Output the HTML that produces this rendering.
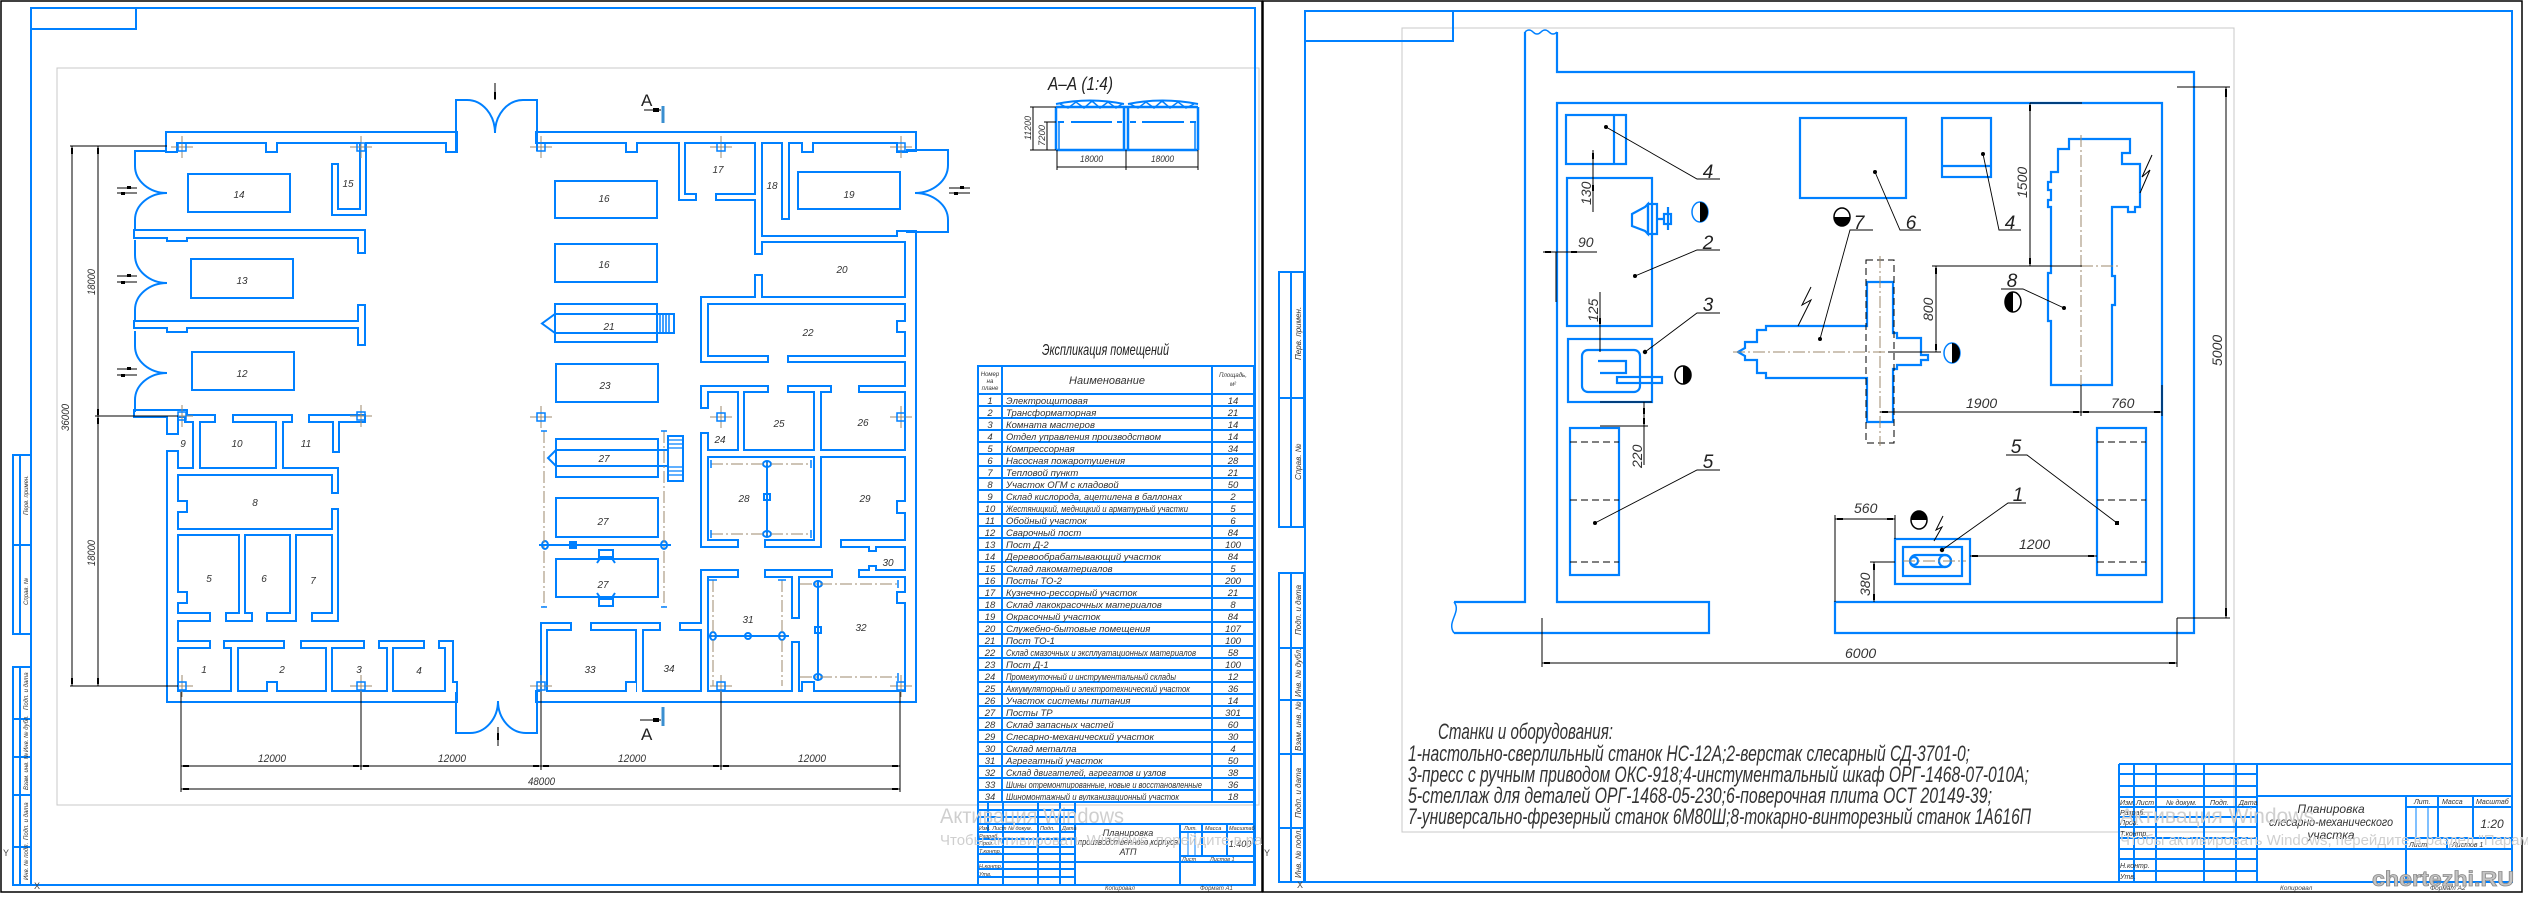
<!DOCTYPE html>
<html><head><meta charset="utf-8">
<style>
html,body{margin:0;padding:0;background:#fff;}
svg{display:block;}
text{font-family:"Liberation Sans","DejaVu Sans",sans-serif;}
</style></head><body>
<svg xmlns="http://www.w3.org/2000/svg" width="2528" height="900" viewBox="0 0 2528 900">
<rect x="0" y="0" width="2528" height="900" fill="#fff"/>

<!-- ================= LEFT SHEET ================= -->
<rect x="1" y="1" width="1261" height="891" fill="none" stroke="#000" stroke-width="1.5"/>
<rect x="57" y="68" width="1202" height="737" fill="none" stroke="#c8c8c8" stroke-width="1"/>
<g fill="none" stroke="#0080ff" stroke-width="2">
  <rect x="31" y="8" width="1224" height="877"/>
  <rect x="31" y="8" width="105" height="21"/>
  <rect x="13" y="455" width="18" height="179"/>
  <line x1="20" y1="455" x2="20" y2="634"/>
  <line x1="13" y1="545" x2="31" y2="545"/>
  <rect x="13" y="667" width="18" height="218"/>
  <line x1="20" y1="667" x2="20" y2="885"/>
  <path d="M13,719H31M13,757H31M13,795H31M13,847H31"/>
</g>
<g font-size="6" fill="#333" font-style="italic">
  <text transform="translate(28,515) rotate(-90)">Перв. примен.</text>
  <text transform="translate(28,605) rotate(-90)">Справ. №</text>
  <text transform="translate(28,710) rotate(-90)">Подп. и дата</text>
  <text transform="translate(28,752) rotate(-90)">Инв. № дубл.</text>
  <text transform="translate(28,790) rotate(-90)">Взам. инв. №</text>
  <text transform="translate(28,840) rotate(-90)">Подп. и дата</text>
  <text transform="translate(28,880) rotate(-90)">Инв. № подл.</text>
</g>
<text x="3" y="856" font-size="9" fill="#444">Y</text>
<text x="34" y="889" font-size="9" fill="#444">X</text>

<defs>
<g id="w">
  <rect x="167" y="133" width="289" height="9"/>
  <rect x="537" y="133" width="378" height="9"/>
  <rect x="167" y="133" width="9" height="18"/>
  <rect x="906" y="133" width="9" height="17"/>
  <rect x="906" y="232" width="9" height="469"/>
  <rect x="168" y="692" width="288" height="9"/>
  <rect x="537" y="692" width="378" height="9"/>
  <rect x="168" y="452" width="9" height="249"/>
  <rect x="168" y="412" width="9" height="21"/>
  <rect x="135" y="231" width="229" height="6"/>
  <rect x="359" y="231" width="5" height="21"/>
  <rect x="168" y="231" width="18" height="9"/>
  <rect x="135" y="322" width="226" height="5"/>
  <rect x="359" y="306" width="5" height="38"/>
  <rect x="168" y="322" width="18" height="9"/>
  <rect x="135" y="411" width="51" height="5"/>
  <rect x="333" y="165" width="4" height="49"/>
  <rect x="333" y="210" width="32" height="4"/>
  <rect x="361" y="142" width="4" height="72"/>
  <rect x="186" y="416" width="28" height="5"/>
  <rect x="194" y="421" width="5" height="48"/>
  <rect x="234" y="416" width="57" height="5"/>
  <rect x="277" y="421" width="5" height="48"/>
  <rect x="310" y="416" width="54" height="5"/>
  <rect x="334" y="421" width="4" height="30"/>
  <rect x="177" y="469" width="160" height="5"/>
  <rect x="333" y="474" width="4" height="18"/>
  <rect x="333" y="510" width="4" height="110"/>
  <rect x="177" y="530" width="156" height="4"/>
  <rect x="177" y="502" width="9" height="9"/>
  <rect x="177" y="593" width="9" height="9"/>
  <rect x="240" y="534" width="4" height="80"/>
  <rect x="291" y="534" width="4" height="86"/>
  <rect x="177" y="614" width="32" height="6"/>
  <rect x="227" y="614" width="24" height="6"/>
  <rect x="268" y="614" width="27" height="6"/>
  <rect x="313" y="614" width="24" height="6"/>
  <rect x="177" y="642" width="32" height="5"/>
  <rect x="225" y="642" width="58" height="5"/>
  <rect x="302" y="642" width="61" height="5"/>
  <rect x="380" y="642" width="43" height="5"/>
  <rect x="440" y="642" width="12" height="5"/>
  <rect x="232" y="647" width="5" height="45"/>
  <rect x="327" y="647" width="4" height="45"/>
  <rect x="388" y="647" width="4" height="45"/>
  <rect x="446" y="647" width="6" height="45"/>
  <rect x="268" y="683" width="8" height="9"/>
  <rect x="447" y="683" width="9" height="9"/>
  <rect x="267" y="142" width="9" height="9"/>
  <rect x="447" y="142" width="9" height="9"/>
  <rect x="627" y="142" width="9" height="9"/>
  <rect x="803" y="142" width="9" height="9"/>
  <rect x="898" y="142" width="8" height="9"/>
  <rect x="898" y="232" width="8" height="9"/>
  <rect x="680" y="142" width="4" height="57"/>
  <rect x="680" y="195" width="15" height="4"/>
  <rect x="717" y="195" width="40" height="4"/>
  <rect x="756" y="142" width="5" height="111"/>
  <rect x="756" y="276" width="5" height="22"/>
  <rect x="783" y="142" width="5" height="76"/>
  <rect x="761" y="237" width="145" height="4"/>
  <rect x="702" y="298" width="204" height="5"/>
  <rect x="702" y="303" width="5" height="58"/>
  <rect x="702" y="357" width="65" height="4"/>
  <rect x="789" y="357" width="117" height="4"/>
  <rect x="898" y="322" width="8" height="9"/>
  <rect x="702" y="387" width="65" height="4"/>
  <rect x="789" y="387" width="41" height="4"/>
  <rect x="860" y="387" width="46" height="4"/>
  <rect x="702" y="391" width="5" height="16"/>
  <rect x="702" y="434" width="5" height="112"/>
  <rect x="739" y="391" width="4" height="60"/>
  <rect x="815" y="391" width="5" height="155"/>
  <rect x="707" y="451" width="199" height="5"/>
  <rect x="702" y="541" width="35" height="5"/>
  <rect x="766" y="541" width="54" height="5"/>
  <rect x="842" y="541" width="64" height="5"/>
  <rect x="870" y="546" width="5" height="4"/>
  <rect x="860" y="571" width="46" height="5"/>
  <rect x="870" y="567" width="5" height="4"/>
  <rect x="702" y="571" width="35" height="5"/>
  <rect x="766" y="571" width="65" height="5"/>
  <rect x="702" y="576" width="5" height="116"/>
  <rect x="793" y="576" width="5" height="41"/>
  <rect x="793" y="643" width="5" height="49"/>
  <rect x="898" y="502" width="8" height="10"/>
  <rect x="898" y="593" width="8" height="9"/>
  <rect x="803" y="683" width="10" height="9"/>
  <rect x="542" y="624" width="4" height="68"/>
  <rect x="542" y="624" width="28" height="5"/>
  <rect x="592" y="624" width="67" height="5"/>
  <rect x="637" y="629" width="5" height="63"/>
  <rect x="681" y="624" width="21" height="5"/>
  <rect x="627" y="683" width="9" height="9"/>
</g>
</defs>
<use href="#w" fill="none" stroke="#0080ff" stroke-width="4"/>
<use href="#w" fill="#fff" stroke="none"/>

<g fill="none" stroke="#0080ff" stroke-width="2">
  <path d="M456,151 L456,100 L467,100 A28,33 0 0 1 495,133 A28,33 0 0 1 523,100 L537,100 L537,151"/>
  <path d="M456,692 L456,733 L470,733 A28,32 0 0 0 498,701 A28,32 0 0 0 526,733 L537,733 L537,692"/>
  <path d="M167,151 L135,151 L135,166 A32,27 0 0 0 167,193 A32,27 0 0 0 135,220 L135,231"/>
  <path d="M135,240 L135,255 A32,28 0 0 0 167,283 A32,27 0 0 0 135,310 L135,322"/>
  <path d="M135,331 L135,346 A32,27 0 0 0 167,373 A32,27 0 0 0 135,400 L135,412"/>
  <path d="M906,150 L948,150 L948,165 A33,28 0 0 1 915,193 A33,27 0 0 1 948,220 L948,232 L906,232"/>
  <rect x="188" y="174" width="102" height="38"/>
  <rect x="191" y="259" width="102" height="39"/>
  <rect x="192" y="352" width="102" height="38"/>
  <rect x="555" y="181" width="102" height="37"/>
  <rect x="555" y="244" width="102" height="38"/>
  <rect x="555" y="304" width="102" height="38"/>
  <path d="M555,314 L674,314 L674,333 L555,333 L542,323.5 Z"/>
  <path d="M660,314V333M663,314V333M666,314V333M669,314V333" stroke-width="1.5"/>
  <rect x="556" y="364" width="102" height="38"/>
  <rect x="556" y="439" width="102" height="38"/>
  <path d="M556,450 L668,450 L668,466 L556,466 L548,458 Z"/>
  <rect x="668" y="436" width="15" height="45"/>
  <path d="M668,440H683M668,444H683M668,448H683M668,467H683M668,471H683M668,475H683" stroke-width="1.3"/>
  <rect x="556" y="498" width="102" height="39"/>
  <rect x="556" y="559" width="102" height="38"/>
  <rect x="599" y="550" width="14" height="7"/>
  <path d="M601,557 L597,563 M611,557 L615,563"/>
  <rect x="599" y="599" width="14" height="7"/>
  <path d="M601,599 L597,593 M611,599 L615,593"/>
  <rect x="798" y="172" width="102" height="37"/>
  <line x1="539" y1="545" x2="671" y2="545"/>
  <ellipse cx="545" cy="545" rx="3" ry="4"/>
  <ellipse cx="664" cy="545" rx="3" ry="4"/>
  <rect x="570" y="542" width="6" height="6" fill="#0080ff"/>
  <line x1="767" y1="462" x2="767" y2="536"/>
  <ellipse cx="767" cy="464" rx="4" ry="3"/>
  <ellipse cx="767" cy="534" rx="4" ry="3"/>
  <rect x="764" y="494" width="6" height="6"/>
  <line x1="709" y1="636" x2="789" y2="636"/>
  <ellipse cx="713" cy="636" rx="3" ry="4"/>
  <ellipse cx="782" cy="636" rx="3" ry="4"/>
  <ellipse cx="748" cy="636" rx="3" ry="3"/>
  <line x1="818" y1="580" x2="818" y2="681"/>
  <ellipse cx="818" cy="584" rx="4" ry="3"/>
  <ellipse cx="818" cy="677" rx="4" ry="3"/>
  <rect x="815" y="627" width="6" height="6"/>
</g>
<g fill="none" stroke="#9c8a6e" stroke-width="1" stroke-dasharray="12 3 2 3">
  <path d="M544,431V607M664,431V607"/>
  <path d="M711,464H811M711,534H811"/>
  <path d="M713,580V686M782,580V686"/>
  <path d="M800,584H898M800,677H898"/>
</g>
<g stroke="#0080ff" stroke-width="1.5">
  <path d="M541,431H547M541,607H547M661,431H667M661,607H667"/>
  <path d="M711,460V468M811,460V468M711,530V538M811,530V538"/>
  <path d="M709,580H717M778,580H786"/>
  <path d="M898,580V588M898,673V681"/>
</g>
<g stroke="#9c8a6e" stroke-width="1">
  <path d="M171,147H193M182,136V158 M350,147H372M361,136V158 M530,147H552M541,136V158 M710,147H732M721,136V158 M890,147H912M901,136V158"/>
  <path d="M171,416H193M182,405V427 M350,416H372M361,405V427 M530,417H552M541,406V428 M710,417H732M721,406V428 M890,417H912M901,406V428"/>
  <path d="M171,686H193M182,675V697 M350,686H372M361,675V697 M530,686H552M541,675V697 M710,686H732M721,675V697 M890,686H912M901,675V697"/>
</g>
<g fill="none" stroke="#0080ff" stroke-width="1.5">
  <rect x="178" y="143" width="8" height="8"/><rect x="357" y="143" width="8" height="8"/><rect x="537" y="143" width="8" height="8"/><rect x="717" y="143" width="8" height="8"/><rect x="897" y="143" width="8" height="8"/>
  <rect x="178" y="412" width="8" height="8"/><rect x="357" y="412" width="8" height="8"/><rect x="537" y="413" width="8" height="8"/><rect x="717" y="413" width="8" height="8"/><rect x="897" y="413" width="8" height="8"/>
  <rect x="178" y="682" width="8" height="8"/><rect x="357" y="682" width="8" height="8"/><rect x="537" y="682" width="8" height="8"/><rect x="717" y="682" width="8" height="8"/><rect x="897" y="682" width="8" height="8"/>
</g>
<g stroke="#000" stroke-width="1">
  <path d="M117,188H137M117,193H137 M117,276H137M117,282H137 M117,369H137M117,375H137 M949,188H970M949,193H970"/>
  <path d="M495,83V100 M498,727V746"/>
</g>
<g fill="#000">
  <rect x="127" y="186" width="4" height="3"/><rect x="121" y="192" width="4" height="3"/>
  <rect x="127" y="274" width="4" height="3"/><rect x="121" y="281" width="4" height="3"/>
  <rect x="127" y="367" width="4" height="3"/><rect x="121" y="374" width="4" height="3"/>
  <rect x="960" y="186" width="4" height="3"/><rect x="954" y="192" width="4" height="3"/>
  <rect x="494" y="92" width="2" height="7"/><rect x="497" y="733" width="2" height="7"/>
</g>
<g stroke="#000" stroke-width="1"><path d="M644,110H661 M640,720H661"/></g>
<rect x="653" y="108" width="6" height="4" fill="#000"/>
<rect x="653" y="718" width="6" height="4" fill="#000"/>
<path d="M663,106V123 M663,707V726" stroke="#3a8fd0" stroke-width="3"/>
<text x="641" y="106" font-size="17" fill="#222">А</text>
<text x="641" y="740" font-size="17" fill="#222">А</text>

<g stroke="#000" stroke-width="1" fill="none">
  <path d="M72,146V686 M98,146V686 M70,146H167 M95,416H178 M70,686H178"/>
  <path d="M181,692V792 M361,692V770 M541,692V770 M721,692V770 M900,692V792"/>
  <path d="M181,766H900 M181,789H900"/>
</g>
<g fill="#000">
  <rect x="71" y="148" width="2" height="6"/><rect x="97" y="148" width="2" height="6"/><rect x="97" y="409" width="2" height="6"/><rect x="97" y="418" width="2" height="6"/><rect x="97" y="678" width="2" height="6"/><rect x="71" y="678" width="2" height="6"/>
  <rect x="183" y="765" width="6" height="2"/><rect x="353" y="765" width="6" height="2"/><rect x="363" y="765" width="6" height="2"/><rect x="533" y="765" width="6" height="2"/><rect x="543" y="765" width="6" height="2"/><rect x="713" y="765" width="6" height="2"/><rect x="723" y="765" width="6" height="2"/><rect x="892" y="765" width="6" height="2"/>
  <rect x="183" y="788" width="6" height="2"/><rect x="892" y="788" width="6" height="2"/>
</g>
<g font-size="11" fill="#333" font-style="italic">
  <text transform="translate(95,295) rotate(-90)" textLength="26" lengthAdjust="spacingAndGlyphs">18000</text>
  <text transform="translate(95,566) rotate(-90)" textLength="26" lengthAdjust="spacingAndGlyphs">18000</text>
  <text transform="translate(69,431) rotate(-90)" textLength="27" lengthAdjust="spacingAndGlyphs">36000</text>
  <text x="258" y="762" textLength="28" lengthAdjust="spacingAndGlyphs">12000</text>
  <text x="438" y="762" textLength="28" lengthAdjust="spacingAndGlyphs">12000</text>
  <text x="618" y="762" textLength="28" lengthAdjust="spacingAndGlyphs">12000</text>
  <text x="798" y="762" textLength="28" lengthAdjust="spacingAndGlyphs">12000</text>
  <text x="528" y="785" textLength="27" lengthAdjust="spacingAndGlyphs">48000</text>
</g>
<g font-size="10" fill="#333" font-style="italic" text-anchor="middle">
  <text x="239" y="198">14</text><text x="348" y="187">15</text><text x="242" y="284">13</text><text x="242" y="377">12</text>
  <text x="604" y="202">16</text><text x="604" y="268">16</text><text x="609" y="330">21</text><text x="605" y="389">23</text>
  <text x="718" y="173">17</text><text x="772" y="189">18</text><text x="849" y="198">19</text><text x="842" y="273">20</text>
  <text x="808" y="336">22</text><text x="720" y="443">24</text><text x="779" y="427">25</text><text x="863" y="426">26</text>
  <text x="604" y="462">27</text><text x="603" y="525">27</text><text x="603" y="588">27</text>
  <text x="744" y="502">28</text><text x="865" y="502">29</text><text x="888" y="566">30</text>
  <text x="748" y="623">31</text><text x="861" y="631">32</text><text x="590" y="673">33</text><text x="669" y="672">34</text>
  <text x="183" y="447">9</text><text x="237" y="447">10</text><text x="306" y="447">11</text><text x="255" y="506">8</text>
  <text x="209" y="582">5</text><text x="264" y="582">6</text><text x="313" y="584">7</text>
  <text x="204" y="673">1</text><text x="282" y="673">2</text><text x="359" y="673">3</text><text x="419" y="674">4</text>
</g>

<text x="1048" y="90" font-size="18" fill="#222" font-style="italic" textLength="65" lengthAdjust="spacingAndGlyphs">А–А (1:4)</text>
<g fill="none" stroke="#0080ff" stroke-width="2.5">
  <path d="M1056,107H1198 M1056,107V150 M1198,107V150 M1056,150H1198 M1124,107V150 M1128,107V150"/>
  <path d="M1056,104 Q1090,97 1124,104 M1128,104 Q1162,97 1198,104" stroke-width="2"/>
  <path d="M1060,104 L1068,108 L1076,102 L1084,108 L1092,101 L1100,108 L1108,102 L1116,108 L1122,104 M1130,104 L1138,108 L1146,102 L1154,108 L1162,101 L1170,108 L1178,102 L1186,108 L1194,104" stroke-width="1.5"/>
  <path d="M1058,122H1064 M1071,122H1112 M1117,122H1122 M1130,122H1136 M1142,122H1184 M1190,122H1196" stroke-width="2"/>
  <path d="M1059,122V150 M1195,122V150" stroke-width="1.5"/>
</g>
<g stroke="#000" stroke-width="1" fill="none">
  <path d="M1030,107H1056 M1044,122H1056 M1033,107V150 M1047,122V150 M1030,150H1056"/>
  <path d="M1057,150V170 M1126,150V170 M1198,150V170 M1057,167H1198"/>
</g>
<g font-size="9" fill="#333" font-style="italic">
  <text transform="translate(1031,140) rotate(-90)" textLength="24" lengthAdjust="spacingAndGlyphs">11200</text>
  <text transform="translate(1045,146) rotate(-90)" textLength="21" lengthAdjust="spacingAndGlyphs">7200</text>
  <text x="1080" y="162" textLength="23" lengthAdjust="spacingAndGlyphs">18000</text>
  <text x="1151" y="162" textLength="23" lengthAdjust="spacingAndGlyphs">18000</text>
</g>

<text x="1042" y="355" font-size="16" fill="#222" font-style="italic" textLength="127" lengthAdjust="spacingAndGlyphs">Экспликация помещений</text>
<g fill="none" stroke="#0080ff" stroke-width="2">
  <rect x="978" y="366" width="276" height="436"/>
  <path d="M1002,366V802 M1212,366V802 M978,394H1254"/>
  <path d="M978,406H1254M978,418H1254M978,430H1254M978,442H1254M978,454H1254M978,466H1254M978,478H1254M978,490H1254M978,502H1254M978,514H1254M978,526H1254M978,538H1254M978,550H1254M978,562H1254M978,574H1254M978,586H1254M978,598H1254M978,610H1254M978,622H1254M978,634H1254M978,646H1254M978,658H1254M978,670H1254M978,682H1254M978,694H1254M978,706H1254M978,718H1254M978,730H1254M978,742H1254M978,754H1254M978,766H1254M978,778H1254M978,790H1254"/>
</g>
<g font-size="6" fill="#333" font-style="italic" text-anchor="middle">
  <text x="990" y="376">Номер</text><text x="990" y="383">на</text><text x="990" y="390">плане</text>
  <text x="1233" y="377">Площадь,</text><text x="1233" y="386">м²</text>
</g>
<text x="1107" y="384" font-size="11" fill="#333" font-style="italic" text-anchor="middle">Наименование</text>
<g font-size="9.5" fill="#333" font-style="italic">
<g text-anchor="middle">
<text x="990" y="404">1</text><text x="990" y="416">2</text><text x="990" y="428">3</text><text x="990" y="440">4</text><text x="990" y="452">5</text><text x="990" y="464">6</text><text x="990" y="476">7</text><text x="990" y="488">8</text><text x="990" y="500">9</text><text x="990" y="512">10</text><text x="990" y="524">11</text><text x="990" y="536">12</text><text x="990" y="548">13</text><text x="990" y="560">14</text><text x="990" y="572">15</text><text x="990" y="584">16</text><text x="990" y="596">17</text><text x="990" y="608">18</text><text x="990" y="620">19</text><text x="990" y="632">20</text><text x="990" y="644">21</text><text x="990" y="656">22</text><text x="990" y="668">23</text><text x="990" y="680">24</text><text x="990" y="692">25</text><text x="990" y="704">26</text><text x="990" y="716">27</text><text x="990" y="728">28</text><text x="990" y="740">29</text><text x="990" y="752">30</text><text x="990" y="764">31</text><text x="990" y="776">32</text><text x="990" y="788">33</text><text x="990" y="800">34</text>
<text x="1233" y="404">14</text><text x="1233" y="416">21</text><text x="1233" y="428">14</text><text x="1233" y="440">14</text><text x="1233" y="452">34</text><text x="1233" y="464">28</text><text x="1233" y="476">21</text><text x="1233" y="488">50</text><text x="1233" y="500">2</text><text x="1233" y="512">5</text><text x="1233" y="524">6</text><text x="1233" y="536">84</text><text x="1233" y="548">100</text><text x="1233" y="560">84</text><text x="1233" y="572">5</text><text x="1233" y="584">200</text><text x="1233" y="596">21</text><text x="1233" y="608">8</text><text x="1233" y="620">84</text><text x="1233" y="632">107</text><text x="1233" y="644">100</text><text x="1233" y="656">58</text><text x="1233" y="668">100</text><text x="1233" y="680">12</text><text x="1233" y="692">36</text><text x="1233" y="704">14</text><text x="1233" y="716">301</text><text x="1233" y="728">60</text><text x="1233" y="740">30</text><text x="1233" y="752">4</text><text x="1233" y="764">50</text><text x="1233" y="776">38</text><text x="1233" y="788">36</text><text x="1233" y="800">18</text>
</g>
<text x="1006" y="404">Электрощитовая</text>
<text x="1006" y="416">Трансформаторная</text>
<text x="1006" y="428">Комната мастеров</text>
<text x="1006" y="440" textLength="155" lengthAdjust="spacingAndGlyphs">Отдел управления производством</text>
<text x="1006" y="452">Компрессорная</text>
<text x="1006" y="464">Насосная пожаротушения</text>
<text x="1006" y="476">Тепловой пункт</text>
<text x="1006" y="488">Участок ОГМ с кладовой</text>
<text x="1006" y="500" textLength="176" lengthAdjust="spacingAndGlyphs">Склад кислорода, ацетилена в баллонах</text>
<text x="1006" y="512" textLength="182" lengthAdjust="spacingAndGlyphs">Жестяницкий, медницкий и арматурный участки</text>
<text x="1006" y="524">Обойный участок</text>
<text x="1006" y="536">Сварочный пост</text>
<text x="1006" y="548">Пост Д-2</text>
<text x="1006" y="560">Деревообрабатывающий участок</text>
<text x="1006" y="572">Склад лакоматериалов</text>
<text x="1006" y="584">Посты ТО-2</text>
<text x="1006" y="596">Кузнечно-рессорный участок</text>
<text x="1006" y="608">Склад лакокрасочных материалов</text>
<text x="1006" y="620">Окрасочный участок</text>
<text x="1006" y="632">Служебно-бытовые помещения</text>
<text x="1006" y="644">Пост ТО-1</text>
<text x="1006" y="656" textLength="190" lengthAdjust="spacingAndGlyphs">Склад смазочных и эксплуатационных материалов</text>
<text x="1006" y="668">Пост Д-1</text>
<text x="1006" y="680" textLength="170" lengthAdjust="spacingAndGlyphs">Промежуточный и инструментальный склады</text>
<text x="1006" y="692" textLength="184" lengthAdjust="spacingAndGlyphs">Аккумуляторный и электротехнический участок</text>
<text x="1006" y="704">Участок системы питания</text>
<text x="1006" y="716">Посты ТР</text>
<text x="1006" y="728">Склад запасных частей</text>
<text x="1006" y="740">Слесарно-механический участок</text>
<text x="1006" y="752">Склад металла</text>
<text x="1006" y="764">Агрегатный участок</text>
<text x="1006" y="776" textLength="160" lengthAdjust="spacingAndGlyphs">Склад двигателей, агрегатов и узлов</text>
<text x="1006" y="788" textLength="196" lengthAdjust="spacingAndGlyphs">Шины отремонтированные, новые и восстановленные</text>
<text x="1006" y="800" textLength="173" lengthAdjust="spacingAndGlyphs">Шиномонтажный и вулканизационный участок</text>
</g>

<g fill="none" stroke="#0080ff" stroke-width="2">
  <rect x="978" y="802" width="276" height="83"/>
  <path d="M988,802V832 M1003,802V885 M1038,802V885 M1060,802V885 M1075,802V885"/>
  <path d="M978,810H1075 M978,817H1075 M978,824H1254 M978,832H1075 M978,839H1075 M978,847H1075 M978,854H1075 M978,862H1254 M978,869H1075 M978,877H1075"/>
  <path d="M1180,824V885 M1202,824V856 M1227,824V856 M1180,832H1254 M1180,856H1254"/>
  <path d="M1188,832V856 M1195,832V856" stroke-width="1"/>
</g>
<g font-size="5.5" fill="#333" font-style="italic">
  <text x="979" y="830">Изм. Лист</text><text x="1008" y="830">№ докум.</text><text x="1040" y="830">Подп.</text><text x="1062" y="830">Дата</text>
  <text x="979" y="838">Разраб.</text><text x="979" y="845">Пров.</text><text x="979" y="853">Т.контр.</text><text x="979" y="868">Н.контр.</text><text x="979" y="876">Утв.</text>
  <text x="1184" y="830">Лит.</text><text x="1205" y="830">Масса</text><text x="1229" y="830">Масштаб</text>
  <text x="1182" y="861">Лист</text><text x="1210" y="861">Листов 1</text>
</g>
<g font-size="9" fill="#333" font-style="italic" text-anchor="middle">
  <text x="1128" y="836">Планировка</text>
  <text x="1128" y="845" textLength="100" lengthAdjust="spacingAndGlyphs">производственного корпуса</text>
  <text x="1128" y="855">АТП</text>
  <text x="1240" y="847">1:400</text>
</g>
<text x="1105" y="890" font-size="6" fill="#444" font-style="italic">Копировал</text>
<text x="1200" y="890" font-size="6" fill="#444" font-style="italic">Формат A1</text>

<svg x="0" y="0" width="1262" height="900">
  <text x="940" y="823" font-size="21" fill="#cfcfcf" textLength="184" lengthAdjust="spacingAndGlyphs">Активация Windows</text>
  <text x="940" y="845" font-size="15" fill="#cfcfcf">Чтобы активировать Windows, перейдите в раздел "Параметры".</text>
</svg>

<!-- ================= RIGHT SHEET ================= -->
<rect x="1263" y="1" width="1259" height="891" fill="none" stroke="#000" stroke-width="1.5"/>
<rect x="1402" y="28" width="832" height="804" fill="none" stroke="#c8c8c8" stroke-width="1"/>
<g fill="none" stroke="#0080ff" stroke-width="2">
  <rect x="1305" y="11" width="1207" height="871"/>
  <rect x="1305" y="11" width="148" height="30"/>
  <rect x="1279" y="272" width="25" height="255"/>
  <line x1="1291" y1="272" x2="1291" y2="527"/>
  <line x1="1279" y1="398" x2="1304" y2="398"/>
  <rect x="1279" y="573" width="25" height="309"/>
  <line x1="1291" y1="573" x2="1291" y2="882"/>
  <path d="M1279,648H1304M1279,700H1304M1279,754H1304M1279,828H1304"/>
</g>
<g font-size="8" fill="#333" font-style="italic">
  <text transform="translate(1301,360) rotate(-90)">Перв. примен.</text>
  <text transform="translate(1301,480) rotate(-90)">Справ. №</text>
  <text transform="translate(1301,635) rotate(-90)">Подп. и дата</text>
  <text transform="translate(1301,697) rotate(-90)">Инв. № дубл.</text>
  <text transform="translate(1301,751) rotate(-90)">Взам. инв. №</text>
  <text transform="translate(1301,818) rotate(-90)">Подп. и дата</text>
  <text transform="translate(1301,878) rotate(-90)">Инв. № подл.</text>
</g>
<text x="1264" y="856" font-size="9" fill="#444">Y</text>
<text x="1297" y="888" font-size="9" fill="#444">X</text>

<g fill="none" stroke="#0080ff" stroke-width="2.2">
  <path d="M1557,32 L1557,72 L2194,72 L2194,633 L1835,633 L1835,602 L2162,602 L2162,103 L1557,103 L1557,602 L1709,602 L1709,633 L1454,633"/>
  <path d="M1454,602 L1525,602 L1525,32"/>
  <path d="M1525,32 q4,-4 8,0 q4,4 8,0 q4,-4 8,0 q4,4 8,0" stroke-width="1.5"/>
  <path d="M1454,602 C1462,612 1446,622 1454,633" stroke-width="1.5"/>
  <rect x="1566" y="115" width="60" height="49"/>
  <line x1="1614" y1="115" x2="1614" y2="164"/>
  <rect x="1567" y="178" width="85" height="148"/>
  <rect x="1568" y="339" width="84" height="63"/>
  <rect x="1582" y="350" width="58" height="42" rx="6"/>
  <path d="M1598,361 L1626,361 L1626,373 L1600,373"/>
  <rect x="1617" y="377" width="45" height="6"/>
  <path d="M1632,214 L1645,207 L1648,204 L1648,234 L1645,231 L1632,226 Z"/>
  <rect x="1648" y="204" width="9" height="30"/>
  <path d="M1657,219 H1665 M1668,207 V230"/>
  <rect x="1664" y="214" width="7" height="10"/>
  <rect x="1800" y="118" width="106" height="80"/>
  <rect x="1942" y="118" width="49" height="59"/>
  <line x1="1942" y1="166" x2="1991" y2="166"/>
  <rect x="1570" y="428" width="49" height="147"/>
  <rect x="2097" y="428" width="49" height="147"/>
  <rect x="1895" y="539" width="75" height="45"/>
  <rect x="1903" y="547" width="59" height="29"/>
  <rect x="1910" y="555" width="41" height="12" rx="6"/>
  <circle cx="1914" cy="561" r="4"/>
  <circle cx="1945" cy="561" r="6"/>
  <path d="M1766,326 L1867,326 L1867,282 L1893,282 L1893,333 L1897,333 L1897,338 L1921,338 L1921,355 L1928,355 L1928,360 L1921,360 L1921,365 L1897,365 L1897,369 L1893,369 L1893,422 L1867,422 L1867,378 L1766,378 L1766,373 L1757,373 L1757,360 L1745,360 L1745,356 L1738,352 L1745,348 L1745,342 L1757,342 L1757,330 L1766,330 Z"/>
  <path d="M2069,139 L2130,139 L2130,153 L2122,153 L2122,164 L2140,164 L2140,207 L2135,207 L2135,212 L2128,212 L2128,207 L2112,207 L2112,276 L2115,276 L2115,305 L2112,305 L2112,385 L2051,385 L2051,321 L2048,321 L2048,273 L2051,273 L2051,207 L2048,207 L2048,200 L2051,200 L2051,190 L2048,190 L2048,182 L2051,182 L2051,172 L2058,172 L2058,149 L2069,149 Z"/>
</g>
<g stroke="#000" stroke-width="1" fill="none" stroke-dasharray="7 4">
  <path d="M1570,442H1619 M1570,500H1619 M1570,562H1619"/>
  <path d="M2097,442H2146 M2097,500H2146 M2097,562H2146"/>
  <rect x="1866" y="260" width="28" height="183"/>
</g>
<g stroke="#9c8a6e" stroke-width="1" fill="none" stroke-dasharray="12 3 2 3">
  <path d="M1733,352H1932 M1880,256V446 M2081,135V388 M2081,266H2118 M1903,561H1966"/>
</g>
<g stroke-width="1.5">
  <ellipse cx="1700" cy="212" rx="8" ry="10" fill="#fff" stroke="#0080ff"/>
  <path d="M1700,202 A8,10 0 0 1 1700,222 Z" fill="#000"/>
  <ellipse cx="1683" cy="375" rx="8" ry="9" fill="#fff" stroke="#000"/>
  <path d="M1683,366 A8,9 0 0 1 1683,384 Z" fill="#000"/>
  <ellipse cx="1842" cy="217" rx="8" ry="9" fill="#fff" stroke="#000"/>
  <path d="M1834,217 A8,9 0 0 0 1850,217 Z" fill="#000"/>
  <ellipse cx="2013" cy="302" rx="8" ry="10" fill="#fff" stroke="#000"/>
  <path d="M2013,292 A8,10 0 0 0 2013,312 Z" fill="#000"/>
  <ellipse cx="1952" cy="353" rx="8" ry="10" fill="#fff" stroke="#0080ff"/>
  <path d="M1952,343 A8,10 0 0 1 1952,363 Z" fill="#000"/>
  <ellipse cx="1919" cy="520" rx="8" ry="9" fill="#fff" stroke="#000"/>
  <path d="M1911,520 A8,9 0 0 1 1927,520 Z" fill="#000"/>
</g>
<g stroke="#000" stroke-width="1" fill="none">
  <path d="M2152,155 L2142,177 L2150,170 L2140,193"/>
  <path d="M1811,287 L1802,305 L1811,300 L1798,326"/>
  <path d="M1943,516 L1936,530 L1942,527 L1934,541"/>
</g>
<g stroke="#000" stroke-width="0.9" fill="none">
  <path d="M1606,127 L1697,179 L1720,179"/>
  <path d="M1635,276 L1697,250 L1720,250"/>
  <path d="M1645,352 L1697,313 L1720,313"/>
  <path d="M1820,339 L1850,230 L1873,230"/>
  <path d="M1875,172 L1900,230 L1921,230"/>
  <path d="M1983,154 L1999,230 L2021,230"/>
  <path d="M2064,308 L2023,289 L2001,289"/>
  <path d="M1595,523 L1697,470 L1720,470"/>
  <path d="M2117,523 L2027,455 L2006,455"/>
  <path d="M1942,550 L2008,503 L2026,503"/>
</g>
<g fill="#000">
  <circle cx="1606" cy="127" r="2"/><circle cx="1635" cy="276" r="2"/><circle cx="1645" cy="352" r="2.2"/><circle cx="1820" cy="339" r="2"/><circle cx="1875" cy="172" r="2"/><circle cx="1983" cy="154" r="2"/><circle cx="2064" cy="308" r="2"/><circle cx="1595" cy="523" r="2"/><rect x="2115" y="521" width="4" height="4"/><circle cx="1942" cy="550" r="2.2"/>
</g>
<g font-size="19" fill="#222" font-style="italic" text-anchor="middle">
  <text x="1708" y="178">4</text><text x="1708" y="249">2</text><text x="1708" y="311">3</text>
  <text x="1859" y="229">7</text><text x="1911" y="229">6</text><text x="2010" y="229">4</text>
  <text x="2012" y="287">8</text><text x="1708" y="468">5</text><text x="2016" y="453">5</text><text x="2018" y="501">1</text>
</g>
<g stroke="#000" stroke-width="1" fill="none">
  <path d="M1593,150V212 M1543,252H1597 M1556,252V302 M1600,292V352"/>
  <path d="M1644,402V465 M1600,402H1652 M1600,426H1648"/>
  <path d="M2030,103V266 M2030,103H2082 M1936,266V352 M1932,266H2082 M1888,352H1941"/>
  <path d="M1880,412H2162 M2081,385V416 M2162,385V416"/>
  <path d="M2226,87V618 M2177,87H2230 M2177,618H2230 M2177,618V667"/>
  <path d="M1542,663H2177 M1542,618V667"/>
  <path d="M1835,519H1895 M1835,515V602 M1895,515V539"/>
  <path d="M1874,562V602 M1870,562H1895"/>
  <path d="M1970,556H2097"/>
</g>
<g fill="#000">
  <rect x="1592" y="153" width="2" height="6"/><rect x="1592" y="185" width="2" height="6"/>
  <rect x="1545" y="251" width="6" height="2"/><rect x="1571" y="251" width="6" height="2"/>
  <rect x="1599" y="318" width="2" height="6"/><rect x="1643" y="408" width="2" height="6"/><rect x="1643" y="418" width="2" height="6"/>
  <rect x="2029" y="105" width="2" height="6"/><rect x="2029" y="258" width="2" height="6"/>
  <rect x="1935" y="268" width="2" height="6"/><rect x="1935" y="344" width="2" height="6"/>
  <rect x="1882" y="411" width="6" height="2"/><rect x="2073" y="411" width="6" height="2"/><rect x="2083" y="411" width="6" height="2"/><rect x="2154" y="411" width="6" height="2"/>
  <rect x="2225" y="89" width="2" height="8"/><rect x="2225" y="608" width="2" height="8"/>
  <rect x="1544" y="662" width="6" height="2"/><rect x="2169" y="662" width="6" height="2"/>
  <rect x="1837" y="518" width="6" height="2"/><rect x="1887" y="518" width="6" height="2"/>
  <rect x="1873" y="564" width="2" height="6"/><rect x="1873" y="594" width="2" height="6"/>
  <rect x="1972" y="555" width="6" height="2"/><rect x="2088" y="555" width="6" height="2"/>
</g>
<g font-size="14" fill="#333" font-style="italic">
  <text transform="translate(1591,205) rotate(-90)">130</text>
  <text x="1578" y="247">90</text>
  <text transform="translate(1598,322) rotate(-90)">125</text>
  <text transform="translate(1642,468) rotate(-90)">220</text>
  <text transform="translate(2027,198) rotate(-90)">1500</text>
  <text transform="translate(1933,321) rotate(-90)">800</text>
  <text x="1966" y="408">1900</text>
  <text x="2111" y="408">760</text>
  <text transform="translate(2222,366) rotate(-90)">5000</text>
  <text x="1845" y="658">6000</text>
  <text x="1854" y="513">560</text>
  <text transform="translate(1870,596) rotate(-90)">380</text>
  <text x="2019" y="549">1200</text>
</g>
<g font-size="22" fill="#333" font-style="italic">
  <text x="1438" y="739" textLength="175" lengthAdjust="spacingAndGlyphs">Станки и оборудования:</text>
  <text x="1408" y="761" textLength="562" lengthAdjust="spacingAndGlyphs">1-настольно-сверлильный станок НС-12А;2-верстак слесарный СД-3701-0;</text>
  <text x="1408" y="782" textLength="621" lengthAdjust="spacingAndGlyphs">3-пресс с ручным приводом ОКС-918;4-инстументальный шкаф ОРГ-1468-07-010А;</text>
  <text x="1408" y="803" textLength="584" lengthAdjust="spacingAndGlyphs">5-стеллаж для деталей ОРГ-1468-05-230;6-поверочная плита ОСТ 20149-39;</text>
  <text x="1408" y="824" textLength="623" lengthAdjust="spacingAndGlyphs">7-универсально-фрезерный станок 6М80Ш;8-токарно-винторезный станок 1А616П</text>
</g>
<g fill="none" stroke="#0080ff" stroke-width="2">
  <path d="M2119,764H2512 M2119,764V882"/>
  <path d="M2134,764V882 M2156,764V882 M2204,764V882 M2236,764V882 M2257,764V882"/>
  <path d="M2119,774H2257 M2119,786H2257 M2119,797H2257 M2119,807H2257 M2119,817H2257 M2119,827H2257 M2119,838H2257 M2119,849H2257 M2119,859H2257 M2119,871H2257"/>
  <path d="M2257,796H2512 M2257,849H2512 M2406,796V882 M2438,796V838 M2473,796V838 M2406,807H2512 M2406,838H2512 M2447,838V849"/>
  <path d="M2416,807V838 M2428,807V838" stroke-width="1"/>
</g>
<g font-size="7" fill="#333" font-style="italic">
  <text x="2120" y="805">Изм.</text><text x="2136" y="805">Лист</text><text x="2166" y="805">№ докум.</text><text x="2210" y="805">Подп.</text><text x="2239" y="805">Дата</text>
  <text x="2120" y="815">Разраб.</text><text x="2120" y="825">Пров.</text><text x="2120" y="836">Т.контр.</text><text x="2120" y="868">Н.контр.</text><text x="2120" y="879">Утв.</text>
  <text x="2414" y="804">Лит.</text><text x="2442" y="804">Масса</text><text x="2476" y="804">Масштаб</text>
  <text x="2409" y="847">Лист</text><text x="2452" y="847">Листов 1</text>
</g>
<g font-size="12" fill="#333" font-style="italic" text-anchor="middle">
  <text x="2331" y="813">Планировка</text>
  <text x="2331" y="826" textLength="124" lengthAdjust="spacingAndGlyphs">слесарно-механического</text>
  <text x="2331" y="839">участка</text>
  <text x="2492" y="828">1:20</text>
</g>
<text x="2280" y="890" font-size="6.5" fill="#444" font-style="italic">Копировал</text>
<text x="2430" y="890" font-size="6.5" fill="#444" font-style="italic">Формат A2</text>
<text x="2120" y="823" font-size="21" fill="#cfcfcf" textLength="194" lengthAdjust="spacingAndGlyphs">Активация Windows</text>
<text x="2120" y="845" font-size="15" fill="#cfcfcf">Чтобы активировать Windows, перейдите в раздел "Параметры".</text>
<text x="2372" y="886" font-size="21" font-weight="bold" fill="#c4c4c4" stroke="#8a8a8a" stroke-width="0.8" textLength="142" lengthAdjust="spacingAndGlyphs">chertezhi.RU</text>
</svg>
</body></html>
